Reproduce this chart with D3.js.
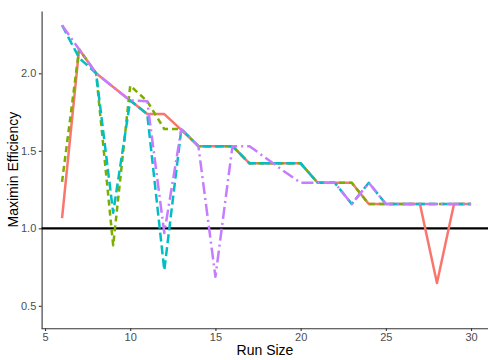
<!DOCTYPE html>
<html>
<head>
<meta charset="utf-8">
<script src="https://cdn.jsdelivr.net/npm/d3@7"></script>
<style>
  html, body { margin: 0; padding: 0; background: #fff; }
  svg { display: block; }
  text { font-family: "Liberation Sans", Arial, sans-serif; }
</style>
</head>
<body>
<svg id="chart" width="488" height="360"></svg>
<script>
// Run sizes on the x axis
const runSize = [6, 7, 8, 9, 10, 11, 12, 13, 14, 15, 16, 17, 18, 19, 20,
                 21, 22, 23, 24, 25, 26, 27, 28, 29, 30];

// Maximin efficiency per design family
const seriesSolid = [1.065, 2.155, 2.0, 1.912, 1.825, 1.737, 1.737, 1.635, 1.53, 1.53, 1.53,
                     1.419, 1.419, 1.419, 1.419, 1.294, 1.294, 1.294, 1.157, 1.157, 1.157,
                     1.157, 0.647, 1.157, 1.157];
const seriesDotted = [1.30, 2.155, 2.0, 0.89, 1.92, 1.82, 1.64, 1.64, 1.53, 1.53, 1.53,
                      1.419, 1.419, 1.419, 1.419, 1.294, 1.294, 1.294, 1.157, 1.157, 1.157,
                      1.157, 1.157, 1.157, 1.157];
const seriesDashed = [2.31, 2.10, 2.0, 1.10, 1.825, 1.737, 0.73, 1.64, 1.53, 1.53, 1.53,
                      1.419, 1.419, 1.419, 1.419, 1.294, 1.294, 1.157, 1.294, 1.157, 1.157,
                      1.157, 1.157, 1.157, 1.157];
const seriesDotDash = [2.31, 2.155, 2.0, 1.912, 1.825, 1.82, 0.97, 1.64, 1.53, 0.687, 1.53,
                       1.53, 1.45, 1.37, 1.294, 1.294, 1.294, 1.157, 1.294, 1.157, 1.157,
                       1.157, 1.157, 1.157, 1.157];

const xTicks = [5, 10, 15, 20, 25, 30];
const yTicks = [0.5, 1.0, 1.5, 2.0];
const referenceLevel = 1.0;

const seriesList = [
  { values: seriesSolid,   color: "#F8766D", dash: null },
  { values: seriesDotted,  color: "#7CAE00", dash: "6,4" },
  { values: seriesDashed,  color: "#00BFC4", dash: "9,4" },
  { values: seriesDotDash, color: "#C77CFF", dash: "12,4,2,4" }
];

const svg = d3.select("#chart");

const x = d3.scaleLinear().domain([4.8, 31.2]).range([41.6, 491.5]);
const y = d3.scaleLinear().domain([0.355, 2.402]).range([328.3, 11]);

// Axes (classic theme: left and bottom lines only)
const xAxis = svg.append("g")
  .attr("transform", `translate(0,${y.range()[0]})`)
  .call(d3.axisBottom(x).tickValues(xTicks).tickFormat(d3.format("d"))
        .tickSizeInner(2.8).tickSizeOuter(0).tickPadding(2.5));
const yAxis = svg.append("g")
  .attr("transform", `translate(${x.range()[0]},0)`)
  .call(d3.axisLeft(y).tickValues(yTicks).tickFormat(d3.format(".1f"))
        .tickSizeInner(2.8).tickSizeOuter(0).tickPadding(2.5));

[xAxis, yAxis].forEach(g => {
  g.select(".domain").attr("stroke", "#333").attr("stroke-width", 1.1);
  g.selectAll(".tick line").attr("stroke", "#333").attr("stroke-width", 1.1);
  g.selectAll(".tick text").attr("fill", "#4D4D4D").attr("font-size", 11);
});
xAxis.select(".domain").attr("d", `M${x.range()[0]},0.5H488`);

// Reference line at efficiency 1
svg.append("line")
  .attr("x1", x.range()[0]).attr("x2", 488)
  .attr("y1", y(referenceLevel)).attr("y2", y(referenceLevel))
  .attr("stroke", "#000").attr("stroke-width", 2.2);

// Efficiency curves
const line = d3.line()
  .x((d, i) => x(runSize[i]))
  .y(d => y(d));

svg.append("g").selectAll("path")
  .data(seriesList)
  .join("path")
  .attr("d", s => line(s.values))
  .attr("fill", "none")
  .attr("stroke", s => s.color)
  .attr("stroke-width", 2.5)
  .attr("stroke-linejoin", "round")
  .attr("stroke-dasharray", s => s.dash);

// Axis titles
svg.append("text")
  .attr("x", 265).attr("y", 355)
  .attr("text-anchor", "middle")
  .attr("font-size", 14)
  .attr("fill", "#000")
  .text("Run Size");

svg.append("text")
  .attr("transform", `translate(18,${(y.range()[0] + y.range()[1]) / 2}) rotate(-90)`)
  .attr("text-anchor", "middle")
  .attr("font-size", 14)
  .attr("fill", "#000")
  .text("Maximin Efficiency");
</script>
</body>
</html>
